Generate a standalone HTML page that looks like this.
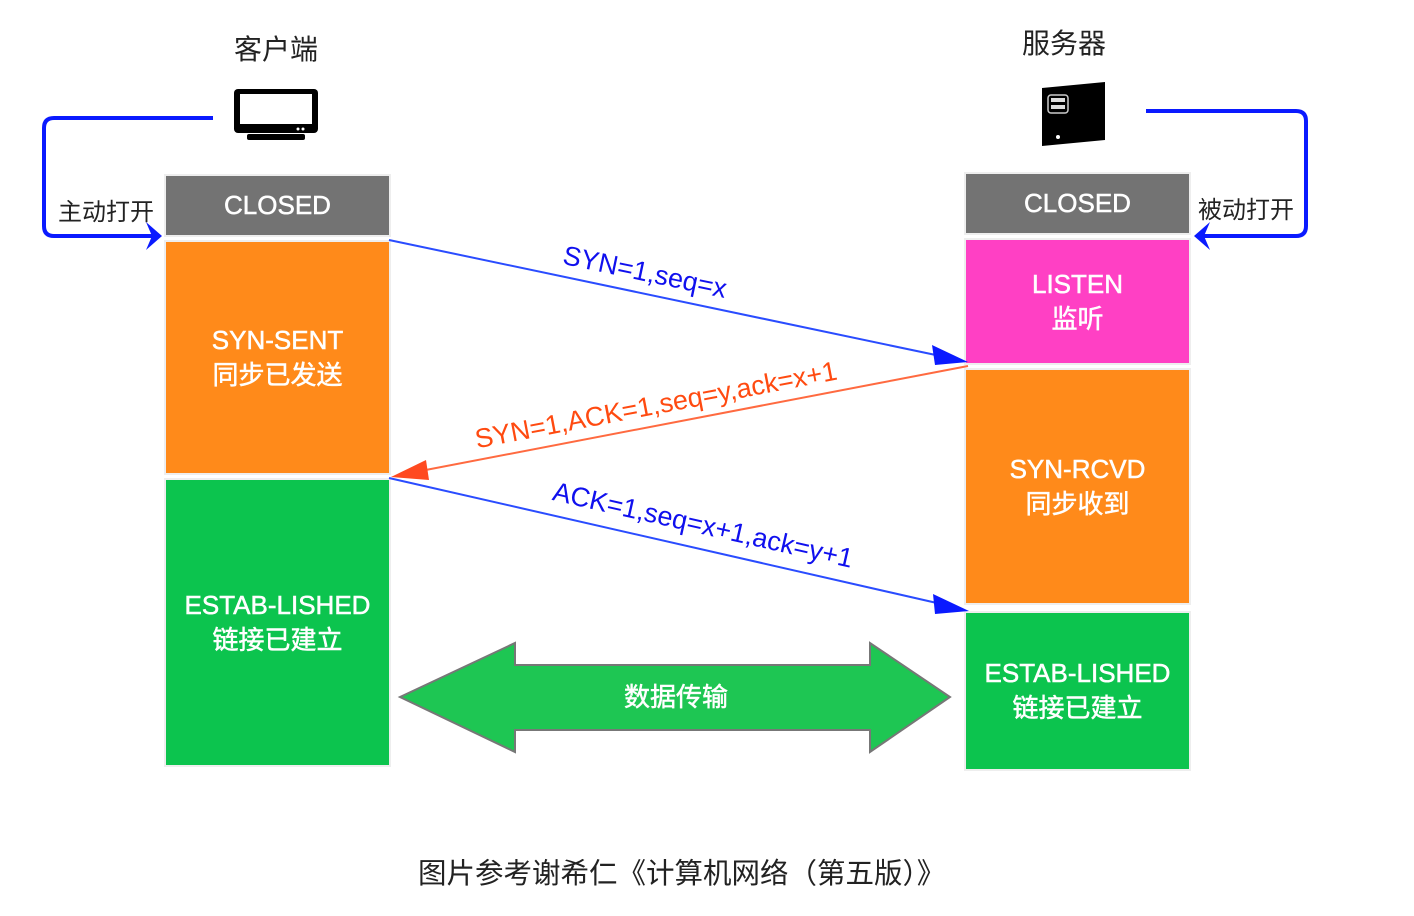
<!DOCTYPE html>
<html><head><meta charset="utf-8"><style>
body{margin:0;width:1414px;height:916px;background:#fff;overflow:hidden;font-family:"Liberation Sans","Noto Sans CJK SC",sans-serif}
.b{position:absolute;box-sizing:border-box;border:2px solid #eee;color:#fff;display:flex;align-items:center;justify-content:center;text-align:center;font-size:26px;line-height:35px;-webkit-text-stroke:0.5px #fff}
.t{position:absolute;font-size:24px;color:#222}
</style></head><body>
<div class="t" style="left:234px;top:28px;font-size:28px">客户端</div>
<div class="t" style="left:1022px;top:22px;font-size:28px">服务器</div>
<div class="t" style="left:58px;top:192px">主动打开</div>
<div class="t" style="left:1198px;top:190px">被动打开</div>

<div class="b" style="left:164px;top:174px;width:227px;height:63px;background:#737373">CLOSED</div>
<div class="b" style="left:164px;top:240px;width:227px;height:235px;background:#FF8A1A">SYN-SENT<br>同步已发送</div>
<div class="b" style="left:164px;top:478px;width:227px;height:289px;background:#0CC44E">ESTAB-LISHED<br>链接已建立</div>

<div class="b" style="left:964px;top:172px;width:227px;height:63px;background:#737373">CLOSED</div>
<div class="b" style="left:964px;top:238px;width:227px;height:127px;background:#FF40C4">LISTEN<br>监听</div>
<div class="b" style="left:964px;top:368px;width:227px;height:237px;background:#FF8A1A">SYN-RCVD<br>同步收到</div>
<div class="b" style="left:964px;top:611px;width:227px;height:160px;background:#0CC44E">ESTAB-LISHED<br>链接已建立</div>

<svg width="1414" height="916" style="position:absolute;left:0;top:0">
<rect x="234" y="89" width="84" height="44" rx="4" fill="#000"/>
<rect x="240" y="94" width="72" height="30" fill="#fff"/>
<rect x="247" y="134" width="58" height="6" rx="2" fill="#000"/>
<circle cx="298" cy="129" r="1.5" fill="#fff"/><circle cx="303" cy="129" r="1.5" fill="#fff"/>
<polygon points="1042,88 1105,82 1105,140 1042,146" fill="#000"/>
<rect x="1048" y="95" width="20" height="18" rx="3" fill="none" stroke="#ccc" stroke-width="1.5"/>
<rect x="1051" y="98" width="14" height="4" fill="#ddd"/><rect x="1051" y="105" width="14" height="4" fill="#ddd"/>
<circle cx="1058" cy="137" r="2" fill="#fff"/>
<path d="M213,118 H54 Q44,118 44,128 V226 Q44,236 54,236 H156" fill="none" stroke="#0a1aff" stroke-width="4"/>
<polygon points="162,236 146,222 152,236 146,250" fill="#0a1aff"/>
<path d="M1146,111 H1296 Q1306,111 1306,121 V226 Q1306,236 1296,236 H1200" fill="none" stroke="#0a1aff" stroke-width="4"/>
<polygon points="1194,236 1210,222 1204,236 1210,250" fill="#0a1aff"/>
<line x1="389" y1="240" x2="950" y2="358" stroke="#2a4cff" stroke-width="2"/>
<polygon points="968,362 932,345 935,365" fill="#0a1aff"/>
<line x1="968" y1="366" x2="410" y2="473" stroke="#ff6a40" stroke-width="2"/>
<polygon points="391,477 426,460 429,480" fill="#ff4a20"/>
<line x1="389" y1="478" x2="950" y2="606" stroke="#2a4cff" stroke-width="2"/>
<polygon points="969,611 933,594 935,614" fill="#0a1aff"/>
<g font-family="Liberation Sans,sans-serif" font-size="27">
<text x="645" y="281" fill="#1010ee" text-anchor="middle" transform="rotate(11.9 645 272)">SYN=1,seq=x</text>
<text x="656" y="414" fill="#ff4a10" text-anchor="middle" transform="rotate(-10.8 656 405)">SYN=1,ACK=1,seq=y,ack=x+1</text>
<text x="703" y="534" fill="#1010ee" text-anchor="middle" transform="rotate(12.8 703 525)">ACK=1,seq=x+1,ack=y+1</text>
</g>
<polygon points="400,697 515,643 515,665 870,665 870,643 950,697 870,752 870,730 515,730 515,752" fill="#1EC653" stroke="#777" stroke-width="2"/>
<text x="676" y="706" fill="#fff" stroke="#fff" stroke-width="0.5" font-size="26" text-anchor="middle" font-family="Liberation Sans,Noto Sans CJK SC,sans-serif">数据传输</text>
</svg>
<div class="t" style="left:418px;top:851px;font-size:28.5px">图片参考谢希仁《计算机网络（第五版）》</div>
</body></html>
